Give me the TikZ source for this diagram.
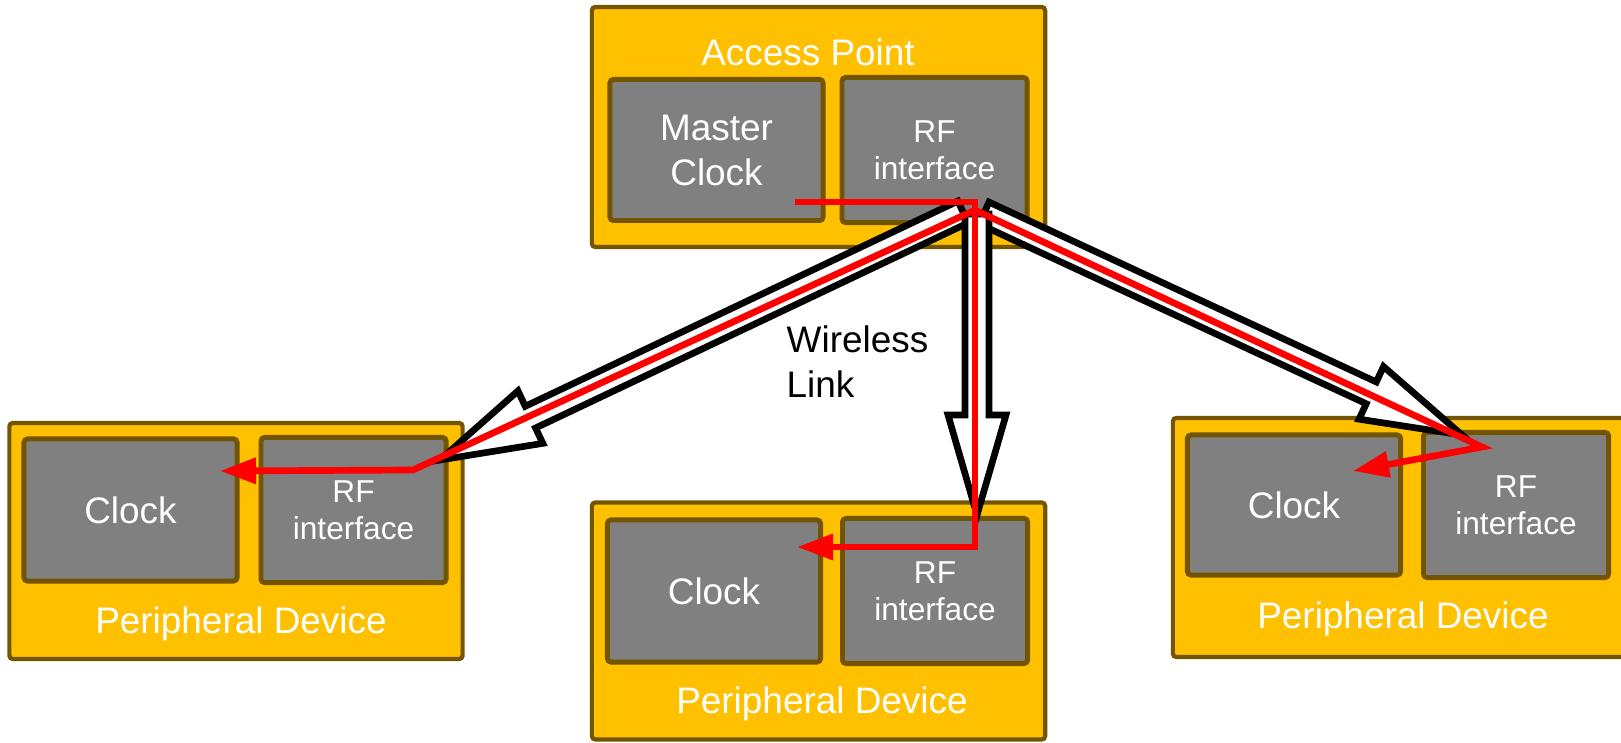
\documentclass[tikz,border=0pt]{standalone}
\usepackage{fontspec}
\setmainfont{Liberation Sans}
\usepackage{xcolor}
\usepackage{tikz}
\usetikzlibrary{arrows, arrows.meta, positioning, calc}
\definecolor{devgold}{RGB}{255,192,0}
\definecolor{devbrown}{RGB}{115,85,0}
\definecolor{unitgray}{RGB}{128,128,128}
\newcommand{\lnkhead}{1.0cm}
\newcommand{\lnkshaft}{0.12cm}
\newcommand{\lnkbarb}{0.29cm}
% hollow block arrow from #1 to #2, #3 names the base of its head
\newcommand{\linkarrow}[3]{%
	\coordinate (#3) at ($(#2)!\lnkhead!(#1)$);
	\draw[link] ($(#1)!\lnkshaft!90:(#2)$) -- ($(#3)!\lnkshaft!90:(#2)$)
		-- ($(#3)!\lnkbarb!90:(#2)$) -- (#2) -- ($(#3)!\lnkbarb!-90:(#2)$)
		-- ($(#3)!\lnkshaft!-90:(#2)$) -- ($(#1)!\lnkshaft!-90:(#2)$) -- cycle;
}
\tikzset{%
	device/.style={draw=devbrown, fill=devgold, line width=1.2pt, rounded corners=1pt,%
		minimum width=4.53cm, inner sep=0mm},
	unit/.style={draw=devbrown, fill=unitgray, line width=1.4pt, rounded corners=1pt,%
		text=white, align=center, inner sep=0mm, font=\fontsize{10.5}{12.8}\selectfont},
	clockbox/.style={unit, minimum width=2.13cm, minimum height=1.42cm},
	rfbox/.style={unit, minimum width=1.85cm, minimum height=1.45cm,%
		font=\fontsize{9}{10.5}\selectfont},
	devtitle/.style={text=white, inner sep=0mm, anchor=base, font=\fontsize{10.5}{12.8}\selectfont},
	link/.style={draw=black, fill=white, line width=1.9pt},
	sync/.style={draw=red, line width=1.9pt},
	syncin/.style={sync, -{Triangle[length=3.6mm, width=2.5mm]}}
}
\begin{document}
\begin{tikzpicture}[x=0.01cm, y=0.01cm]
	\useasboundingbox (0,0) rectangle (1621,742);

	% devices
	\node[device, minimum height=2.40cm] (ap) at (818.5,615) {};
	\node[device, minimum height=2.36cm] (pd1) at (236,201) {};
	\node[device, minimum height=2.37cm] (pd2) at (818.5,121) {};
	\node[device, minimum height=2.39cm] (pd3) at (1399.5,204.5) {};

	\node[clockbox, minimum height=1.41cm] (mc) at (716.5,592) {Master\\Clock};
	\node[rfbox, right=0.14cm of mc] (aprf) {RF\\interface};
	\node[clockbox] (clk1) at (130.5,232) {Clock};
	\node[rfbox, right=0.19cm of clk1] (rf1) {RF\\interface};
	\node[clockbox] (clk2) at (714,151) {Clock};
	\node[rfbox, right=0.17cm of clk2] (rf2) {RF\\interface};
	\node[clockbox, minimum height=1.40cm] (clk3) at (1294,237) {Clock};
	\node[rfbox, right=0.18cm of clk3] (rf3) {RF\\interface};

	\node[devtitle] (aptitle) at (808,676) {Access Point};
	\node[devtitle] (pd1title) at (241,109) {Peripheral Device};
	\node[devtitle] (pd2title) at (822,29) {Peripheral Device};
	\node[devtitle] (pd3title) at (1403,114) {Peripheral Device};

	\node[anchor=west, align=left, inner sep=0mm, font=\fontsize{10.5}{12.8}\selectfont] (wl)
		at (786,380) {Wireless\\Link};

	% wireless links
	\coordinate (s1) at (963,530);
	\coordinate (t1) at (440,282);
	\coordinate (s3) at (984,529);
	\coordinate (t3) at (1462,307);
	\coordinate (s2) at (977,528);
	\coordinate (t2) at (977,227);
	\linkarrow{s1}{t1}{h1}
	\linkarrow{s3}{t3}{h3}
	\linkarrow{s2}{t2}{h2}

	% clock sync
	\coordinate (mcout) at (795,540);
	\coordinate (hubtop) at (975,540);
	\coordinate (hub) at (975,532);
	\coordinate (rx1) at (413,272);
	\coordinate (rx2) at (975,195);
	\coordinate (rx3) at (1482,295);
	\coordinate (in1) at (220,271);
	\coordinate (in2) at (797,195);
	\coordinate (in3) at (1353,271);

	\draw[syncin] (mcout) -- (hubtop) -- (rx2) -- (in2);
	\draw[syncin] (hub) -- (rx1) -- (in1);
	\draw[syncin] (hub) -- (rx3) -- (in3);
\end{tikzpicture}
\end{document}
